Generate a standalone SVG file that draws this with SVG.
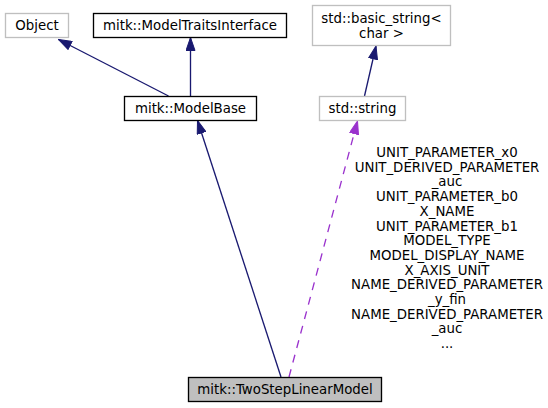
<svg xmlns="http://www.w3.org/2000/svg" width="548" height="408" viewBox="0 0 548 408">
<style>
text{font-family:"DejaVu Sans","Liberation Sans",sans-serif;font-size:13.33px;fill:#000;text-anchor:middle}
.gray{fill:#fff;stroke:#bfbfbf;stroke-width:1.33}
.blk{fill:#fff;stroke:#000;stroke-width:1.33}
.cur{fill:#bfbfbf;stroke:#000;stroke-width:1.33}
.inh{stroke:#191970;stroke-width:1.33;fill:none;marker-end:url(#hb)}
.use{stroke:#9a32cd;stroke-width:1.33;fill:none;stroke-dasharray:8,7;marker-end:url(#hp)}
</style>
<defs>
<marker id="hb" markerUnits="userSpaceOnUse" markerWidth="14" markerHeight="10" refX="13.5" refY="5" orient="auto" viewBox="0 0 14 10">
<path d="M0.5,0.5 L13.5,5 L0.5,9.5 z" fill="#191970" stroke="#191970" stroke-width="1"/>
</marker>
<marker id="hp" markerUnits="userSpaceOnUse" markerWidth="14" markerHeight="10" refX="13.5" refY="5" orient="auto" viewBox="0 0 14 10">
<path d="M0.5,0.5 L13.5,5 L0.5,9.5 z" fill="#9a32cd" stroke="#9a32cd" stroke-width="1"/>
</marker>
</defs>
<rect width="548" height="408" fill="#fff"/>
<g id="connectors">
<path class="inh" d="M168.5,96 L58.5,39.5"/>
<path class="inh" d="M190.5,96 L190.5,37.5"/>
<path class="inh" d="M281,377 L197.5,120.5"/>
<path class="inh" d="M364.5,96 L376,46"/>
<path class="use" d="M289,377 L357.5,121"/>
<g id="edge-labels">
<text x="447" y="157">UNIT_PARAMETER_x0</text>
<text x="447" y="171.7">UNIT_DERIVED_PARAMETER</text>
<text x="447" y="186.4">_auc</text>
<text x="447" y="201.1">UNIT_PARAMETER_b0</text>
<text x="447" y="215.8">X_NAME</text>
<text x="447" y="230.5">UNIT_PARAMETER_b1</text>
<text x="447" y="245.2">MODEL_TYPE</text>
<text x="447" y="259.9">MODEL_DISPLAY_NAME</text>
<text x="447" y="274.6">X_AXIS_UNIT</text>
<text x="447" y="289.3">NAME_DERIVED_PARAMETER</text>
<text x="447" y="304">_y_fin</text>
<text x="447" y="318.7">NAME_DERIVED_PARAMETER</text>
<text x="447" y="333.4">_auc</text>
<text x="447" y="348.1">...</text>
</g>
</g>
<g id="node-Object">
<rect class="gray" x="5.5" y="13.5" width="63" height="24"/>
<text x="37" y="30">Object</text>
</g>
<g id="node-ModelTraitsInterface">
<rect class="blk" x="93.5" y="13.5" width="193" height="24"/>
<text x="190" y="30">mitk::ModelTraitsInterface</text>
</g>
<g id="node-ModelBase">
<rect class="blk" x="124.5" y="96.5" width="132" height="24"/>
<text x="190.5" y="113">mitk::ModelBase</text>
</g>
<g id="node-basic_string">
<rect class="gray" x="312.5" y="5.5" width="138" height="40"/>
<text x="381.5" y="23">std::basic_string&lt;</text>
<text x="381.5" y="37.7">char &gt;</text>
</g>
<g id="node-string">
<rect class="gray" x="319.5" y="96.5" width="86" height="24"/>
<text x="362.5" y="113">std::string</text>
</g>
<g id="node-TwoStepLinearModel">
<rect class="cur" x="188.5" y="377.5" width="193" height="24"/>
<text x="285" y="394">mitk::TwoStepLinearModel</text>
</g>
</svg>
